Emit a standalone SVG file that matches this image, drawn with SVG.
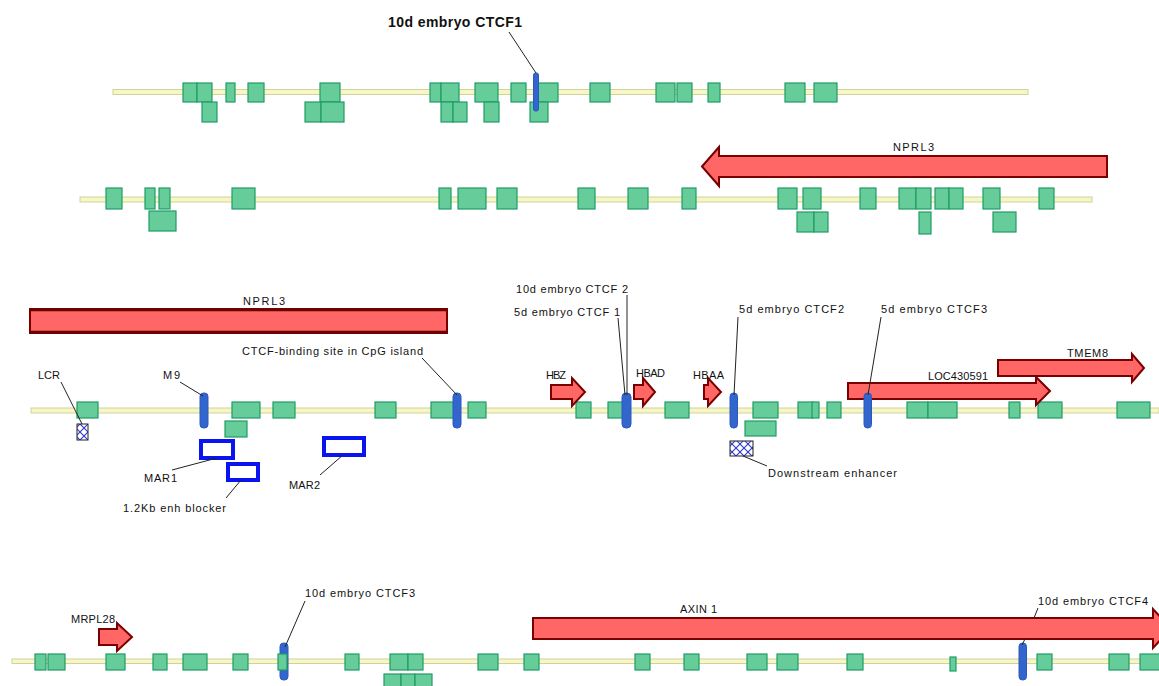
<svg xmlns="http://www.w3.org/2000/svg" width="1159" height="686" viewBox="0 0 1159 686">
<style>
.bb{fill:#f7f7c6;stroke:#d2d29c;stroke-width:1}
.ex{fill:#66cc99;stroke:#1f9c66;stroke-width:1.2}
.ct{fill:#3366cc;stroke:#2a58c0;stroke-width:1}
.ar{fill:#ff6666;stroke:#7a0000;stroke-width:2;stroke-linejoin:miter}
.mar{fill:#ffffff;stroke:#0a14ee;stroke-width:4}
.ht{fill:url(#hatch);stroke:#222;stroke-width:1}
.lb{font-family:"Liberation Sans",Arial,sans-serif;font-size:11px;fill:#111}
.bd{font-family:"Liberation Sans",Arial,sans-serif;font-size:14px;font-weight:bold;fill:#111}
.ld{fill:none;stroke:#222;stroke-width:1}
</style>
<defs>
<pattern id="hatch" patternUnits="userSpaceOnUse" width="8" height="8">
<rect width="8" height="8" fill="#ffffff"/>
<path d="M0,0 L8,8 M8,0 L0,8" stroke="#2a3acc" stroke-width="1.1"/>
</pattern>
</defs>
<rect width="1159" height="686" fill="#ffffff"/>

<!-- Row 1 -->
<g id="row1">
<rect class="bb" x="113" y="89.5" width="915" height="5"/>
<g id="row1-exons">
<rect class="ex" x="183" y="83" width="14" height="19"/>
<rect class="ex" x="197" y="83" width="15" height="19"/>
<rect class="ex" x="226" y="83" width="9" height="19"/>
<rect class="ex" x="248" y="83" width="16" height="19"/>
<rect class="ex" x="320" y="83" width="20" height="19"/>
<rect class="ex" x="430" y="83" width="11" height="19"/>
<rect class="ex" x="441" y="83" width="18" height="19"/>
<rect class="ex" x="475" y="83" width="23" height="19"/>
<rect class="ex" x="511" y="83" width="15" height="19"/>
<rect class="ex" x="538" y="83" width="20" height="19"/>
<rect class="ex" x="590" y="83" width="20" height="19"/>
<rect class="ex" x="656" y="83" width="19" height="19"/>
<rect class="ex" x="677" y="83" width="15" height="19"/>
<rect class="ex" x="708" y="83" width="12" height="19"/>
<rect class="ex" x="785" y="83" width="20" height="19"/>
<rect class="ex" x="814" y="83" width="23" height="19"/>
<rect class="ex" x="202" y="102" width="15" height="20"/>
<rect class="ex" x="305" y="102" width="16" height="20"/>
<rect class="ex" x="321" y="102" width="23" height="20"/>
<rect class="ex" x="441" y="102" width="12" height="20"/>
<rect class="ex" x="453" y="102" width="14" height="20"/>
<rect class="ex" x="484" y="102" width="15" height="20"/>
<rect class="ex" x="530" y="102" width="18" height="20"/>
</g>
</g>
<g id="ctcf-10d-1">
<rect class="ct" x="533.5" y="73" width="5" height="38" rx="2"/>
<text class="bd" x="388" y="27" textLength="134" lengthAdjust="spacing">10d embryo CTCF1</text>
</g>

<!-- Row 2 -->
<g id="row2">
<rect class="bb" x="80" y="197" width="1012" height="5"/>
<g id="row2-exons">
<rect class="ex" x="106" y="188" width="16" height="21"/>
<rect class="ex" x="145" y="188" width="10" height="21"/>
<rect class="ex" x="159" y="188" width="11" height="21"/>
<rect class="ex" x="232" y="188" width="23" height="21"/>
<rect class="ex" x="439" y="188" width="12" height="21"/>
<rect class="ex" x="458" y="188" width="28" height="21"/>
<rect class="ex" x="497" y="188" width="20" height="21"/>
<rect class="ex" x="578" y="188" width="17" height="21"/>
<rect class="ex" x="628" y="188" width="20" height="21"/>
<rect class="ex" x="682" y="188" width="14" height="21"/>
<rect class="ex" x="778" y="188" width="19" height="21"/>
<rect class="ex" x="803" y="188" width="18" height="21"/>
<rect class="ex" x="860" y="188" width="16" height="21"/>
<rect class="ex" x="899" y="188" width="17" height="21"/>
<rect class="ex" x="916" y="188" width="15" height="21"/>
<rect class="ex" x="935" y="188" width="14" height="21"/>
<rect class="ex" x="949" y="188" width="14" height="21"/>
<rect class="ex" x="983" y="188" width="17" height="21"/>
<rect class="ex" x="1039" y="188" width="15" height="21"/>
<rect class="ex" x="149" y="211" width="27" height="20"/>
<rect class="ex" x="797" y="212" width="17" height="20"/>
<rect class="ex" x="814" y="212" width="14" height="20"/>
<rect class="ex" x="919" y="212" width="12" height="22"/>
<rect class="ex" x="993" y="212" width="23" height="20"/>
</g>
</g>
<g id="gene-nprl3-a">
<polygon class="ar" points="702,166.5 719,147 719,156 1107,156 1107,177 719,177 719,186"/>
<text class="lb" x="893" y="151" textLength="41" lengthAdjust="spacing">NPRL3</text>
</g>

<!-- Row 3 -->
<g id="row3">
<rect class="bb" x="31" y="408" width="1128" height="5"/>
<g id="row3-exons">
<rect class="ex" x="77" y="402" width="21" height="16"/>
<rect class="ex" x="232" y="402" width="28" height="16"/>
<rect class="ex" x="273" y="402" width="22" height="16"/>
<rect class="ex" x="375" y="402" width="21" height="16"/>
<rect class="ex" x="431" y="402" width="23" height="16"/>
<rect class="ex" x="468" y="402" width="18" height="16"/>
<rect class="ex" x="576" y="402" width="15" height="16"/>
<rect class="ex" x="608" y="402" width="15" height="16"/>
<rect class="ex" x="665" y="402" width="24" height="16"/>
<rect class="ex" x="753" y="402" width="25" height="16"/>
<rect class="ex" x="798" y="402" width="15" height="16"/>
<rect class="ex" x="812" y="402" width="7" height="16"/>
<rect class="ex" x="827" y="402" width="14" height="16"/>
<rect class="ex" x="907" y="402" width="21" height="16"/>
<rect class="ex" x="928" y="402" width="29" height="16"/>
<rect class="ex" x="1009" y="402" width="11" height="16"/>
<rect class="ex" x="1038" y="402" width="24" height="16"/>
<rect class="ex" x="1117" y="402" width="33" height="16"/>
<rect class="ex" x="225" y="421" width="22" height="16"/>
<rect class="ex" x="745" y="421" width="31" height="15"/>
</g>
</g>
<g id="gene-nprl3-b">
<rect class="ar" x="30" y="309" width="417" height="24"/>
<path d="M30,310 H447 M30,332 H447" stroke="#6a0000" stroke-width="2.5" fill="none"/>
<text class="lb" x="243" y="305" textLength="42" lengthAdjust="spacing">NPRL3</text>
</g>
<g id="gene-hbz">
<polygon class="ar" points="551,385 572,385 572,378 585,392 572,406 572,399 551,399"/>
<text class="lb" x="546" y="379" textLength="20" lengthAdjust="spacing">HBZ</text>
</g>
<g id="gene-hbad">
<polygon class="ar" points="634,385 643,385 643,378 655,392 643,406 643,399 634,399"/>
<text class="lb" x="636" y="377" textLength="29" lengthAdjust="spacing">HBAD</text>
</g>
<g id="gene-hbaa">
<polygon class="ar" points="704,385 708,385 708,378 721,392 708,406 708,399 704,399"/>
<text class="lb" x="693" y="379" textLength="31" lengthAdjust="spacing">HBAA</text>
</g>
<g id="gene-tmem8">
<polygon class="ar" points="998,360 1132,360 1132,354 1144,368 1132,382 1132,376 998,376"/>
<text class="lb" x="1067" y="357" textLength="41" lengthAdjust="spacing">TMEM8</text>
</g>
<g id="gene-loc430591">
<polygon class="ar" points="848,383 1036,383 1036,377 1050,391 1036,405 1036,399 848,399"/>
<text class="lb" x="928" y="380" textLength="60" lengthAdjust="spacing">LOC430591</text>
</g>
<g id="lcr">
<rect class="ht" x="77" y="424" width="11" height="16"/>
<text class="lb" x="38" y="379" textLength="22" lengthAdjust="spacing">LCR</text>
</g>
<g id="m9">
<rect class="ct" x="200" y="393" width="8" height="35" rx="3.5"/>
<text class="lb" x="163" y="379" textLength="17" lengthAdjust="spacing">M9</text>
</g>
<g id="ctcf-cpg">
<rect class="ct" x="453" y="393" width="8" height="35" rx="3.5"/>
<text class="lb" x="242" y="355" textLength="181" lengthAdjust="spacing">CTCF-binding site in CpG island</text>
</g>
<g id="mar1">
<rect class="mar" x="201" y="441" width="32" height="17"/>
<text class="lb" x="144" y="482" textLength="33" lengthAdjust="spacing">MAR1</text>
</g>
<g id="enh-blocker">
<rect class="mar" x="228" y="464" width="30" height="16"/>
<text class="lb" x="123" y="512" textLength="103" lengthAdjust="spacing">1.2Kb enh blocker</text>
</g>
<g id="mar2">
<rect class="mar" x="324" y="438" width="40" height="17"/>
<text class="lb" x="289" y="489" textLength="31" lengthAdjust="spacing">MAR2</text>
</g>
<g id="ctcf-5d-1-10d-2">
<rect class="ct" x="622" y="393" width="9" height="35" rx="4"/>
<text class="lb" x="516" y="293" textLength="112" lengthAdjust="spacing">10d embryo CTCF 2</text>
<text class="lb" x="514" y="316" textLength="106" lengthAdjust="spacing">5d embryo CTCF 1</text>
</g>
<g id="ctcf-5d-2">
<rect class="ct" x="730" y="393" width="7.5" height="35" rx="3.5"/>
<text class="lb" x="739" y="313" textLength="105" lengthAdjust="spacing">5d embryo CTCF2</text>
</g>
<g id="ctcf-5d-3">
<rect class="ct" x="864" y="393" width="7.5" height="35" rx="3.5"/>
<text class="lb" x="881" y="313" textLength="106" lengthAdjust="spacing">5d embryo CTCF3</text>
</g>
<g id="downstream-enhancer">
<rect class="ht" x="730" y="441" width="23" height="15"/>
<text class="lb" x="768" y="477" textLength="129" lengthAdjust="spacing">Downstream enhancer</text>
</g>

<!-- Row 4 -->
<g id="row4">
<rect class="bb" x="12" y="659" width="1147" height="4.5"/>
<rect class="ct" x="280" y="643" width="8" height="37" rx="3.5"/>
<g id="row4-exons">
<rect class="ex" x="35" y="654" width="11" height="16"/>
<rect class="ex" x="48" y="654" width="17" height="16"/>
<rect class="ex" x="106" y="654" width="19" height="16"/>
<rect class="ex" x="153" y="654" width="14" height="16"/>
<rect class="ex" x="183" y="654" width="24" height="16"/>
<rect class="ex" x="233" y="654" width="15" height="16"/>
<rect class="ex" x="278" y="654" width="9" height="16"/>
<rect class="ex" x="345" y="654" width="14" height="16"/>
<rect class="ex" x="390" y="654" width="18" height="16"/>
<rect class="ex" x="408" y="654" width="15" height="16"/>
<rect class="ex" x="384" y="674" width="17" height="14"/>
<rect class="ex" x="401" y="674" width="14" height="14"/>
<rect class="ex" x="415" y="674" width="17" height="14"/>
<rect class="ex" x="478" y="654" width="20" height="16"/>
<rect class="ex" x="524" y="654" width="15" height="16"/>
<rect class="ex" x="635" y="654" width="15" height="16"/>
<rect class="ex" x="684" y="654" width="15" height="16"/>
<rect class="ex" x="747" y="654" width="20" height="16"/>
<rect class="ex" x="777" y="654" width="21" height="16"/>
<rect class="ex" x="847" y="654" width="16" height="16"/>
<rect class="ex" x="950" y="657" width="6" height="14"/>
<rect class="ex" x="1037" y="654" width="15" height="16"/>
<rect class="ex" x="1109" y="654" width="20" height="16"/>
<rect class="ex" x="1140" y="654" width="20" height="16"/>
</g>
</g>
<g id="ctcf-10d-3">
<text class="lb" x="305" y="597" textLength="110" lengthAdjust="spacing">10d embryo CTCF3</text>
</g>
<g id="gene-mrpl28">
<polygon class="ar" points="99,629 117,629 117,623 132,637 117,651 117,645 99,645"/>
<text class="lb" x="71" y="623" textLength="44" lengthAdjust="spacing">MRPL28</text>
</g>
<g id="gene-axin1">
<polygon class="ar" points="533,618 1153,618 1153,609 1171,628.5 1153,648 1153,639 533,639"/>
<text class="lb" x="680" y="613" textLength="37" lengthAdjust="spacing">AXIN 1</text>
</g>
<g id="ctcf-10d-4">
<rect class="ct" x="1019" y="643" width="7.5" height="37" rx="3.5"/>
<text class="lb" x="1038" y="605" textLength="110" lengthAdjust="spacing">10d embryo CTCF4</text>
</g>

<!-- Leader lines -->
<g id="connectors">
<path class="ld" d="M509,32 L536,73"/>
<path class="ld" d="M61,382 L82,424"/>
<path class="ld" d="M180,382 L203,396"/>
<path class="ld" d="M422,358 L457,395"/>
<path class="ld" d="M172,470 L217,458"/>
<path class="ld" d="M226,498 L241,480"/>
<path class="ld" d="M320,475 L343,455"/>
<path class="ld" d="M627,295 L627,395"/>
<path class="ld" d="M618,318 L625,395"/>
<path class="ld" d="M738,317 L734,395"/>
<path class="ld" d="M743,456 L767,466"/>
<path class="ld" d="M881,317 L868,395"/>
<path class="ld" d="M305,601 L285,647"/>
<path class="ld" d="M1038,608 L1034,618 M1025,639 L1022,645"/>
</g>
</svg>
